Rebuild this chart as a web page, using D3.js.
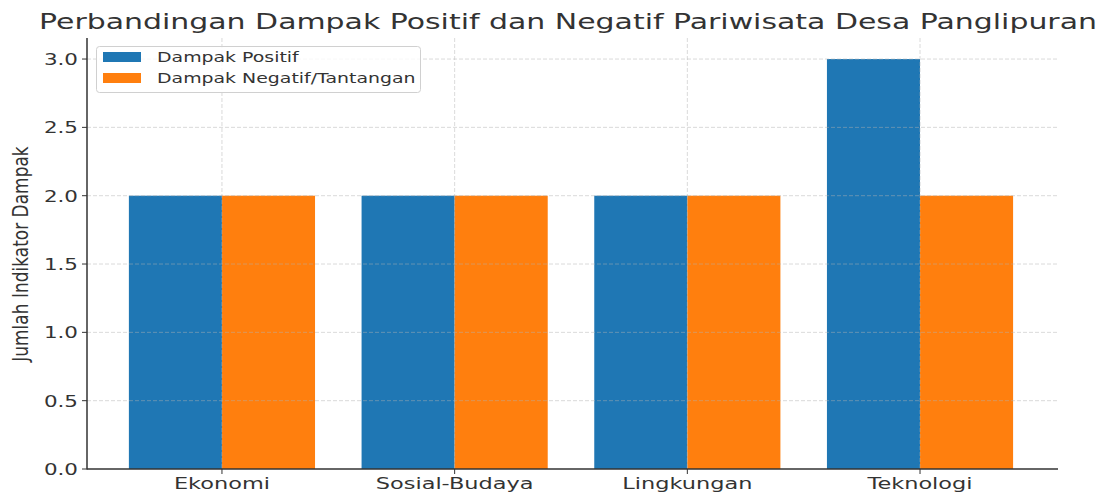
<!DOCTYPE html>
<html>
<head>
<meta charset="utf-8">
<script src="https://cdn.jsdelivr.net/npm/d3@7"></script>
<style>
  html, body { margin: 0; padding: 0; background: #fff; }
  text { font-family: "DejaVu Sans", sans-serif; fill: #333; }
</style>
</head>
<body>
<div id="chart"></div>
<script>
/* data */
const categories = ["Ekonomi", "Sosial-Budaya", "Lingkungan", "Teknologi"];
const positif = [2, 2, 2, 3];
const negatif = [2, 2, 2, 2];
const seriesNames = ["Dampak Positif", "Dampak Negatif/Tantangan"];
const yTicks = [0, 0.5, 1.0, 1.5, 2.0, 2.5, 3.0];
const titleText = "Perbandingan Dampak Positif dan Negatif Pariwisata Desa Panglipuran";
const yLabelText = "Jumlah Indikator Dampak";

//---------------------------------
/* layout */
const w = 1114, h = 492;
const plotLeft = 87, plotRight = 1058, plotTop = 38, plotBottom = 469;
const blue = "#1f77b4", orange = "#ff7f0e";
const barW = 0.4;

const svg = d3.select("#chart").append("svg")
  .attr("width", w).attr("height", h);

const xScale = d3.scaleLinear().domain([-0.58, 3.593]).range([plotLeft, plotRight]);
const yScale = d3.scaleLinear().domain([0, 3.154]).range([plotBottom, plotTop]);

/* the picture is stretched sideways, so text gets a horizontal scale */
function stext(x, y, str, size, anchor, sx) {
  return svg.append("text")
    .attr("transform", `translate(${x},${y}) scale(${sx},1)`)
    .attr("text-anchor", anchor || "start")
    .style("font-size", size + "px")
    .text(str);
}

//---------------------------------
/* bars */
const idx = d3.range(categories.length);
svg.append("g").selectAll("rect.pos")
  .data(idx).enter().append("rect")
  .attr("x", i => xScale(i - barW))
  .attr("width", i => xScale(i) - xScale(i - barW))
  .attr("y", i => yScale(positif[i]))
  .attr("height", i => yScale(0) - yScale(positif[i]))
  .attr("fill", blue);

svg.append("g").selectAll("rect.neg")
  .data(idx).enter().append("rect")
  .attr("x", i => xScale(i))
  .attr("width", i => xScale(i + barW) - xScale(i))
  .attr("y", i => yScale(negatif[i]))
  .attr("height", i => yScale(0) - yScale(negatif[i]))
  .attr("fill", orange);

//---------------------------------
/* grid (drawn over the bars, like matplotlib) */
const grid = svg.append("g")
  .attr("stroke", "#b0b0b0")
  .attr("stroke-opacity", 0.6)
  .attr("stroke-dasharray", "4,2")
  .attr("stroke-width", 0.8);
grid.selectAll("line.h").data(yTicks.slice(1)).enter().append("line")
  .attr("x1", plotLeft).attr("x2", plotRight)
  .attr("y1", d => yScale(d)).attr("y2", d => yScale(d));
grid.selectAll("line.v").data(idx).enter().append("line")
  .attr("x1", i => xScale(i)).attr("x2", i => xScale(i))
  .attr("y1", plotTop).attr("y2", plotBottom);

//---------------------------------
/* axes */
const axisColor = "#333";
svg.append("line")
  .attr("x1", plotLeft).attr("x2", plotLeft).attr("y1", plotTop).attr("y2", plotBottom + 0.5)
  .attr("stroke", axisColor).attr("stroke-width", 1.5);
svg.append("line")
  .attr("x1", plotLeft).attr("x2", plotRight).attr("y1", plotBottom).attr("y2", plotBottom)
  .attr("stroke", axisColor).attr("stroke-width", 1.5);

yTicks.forEach(function(t) {
  svg.append("line")
    .attr("x1", plotLeft - 5).attr("x2", plotLeft)
    .attr("y1", yScale(t)).attr("y2", yScale(t))
    .attr("stroke", axisColor).attr("stroke-width", 1);
  stext(plotLeft - 9, yScale(t) + 6, d3.format(".1f")(t), 16.5, "end", 1.3);
});

categories.forEach(function(c, i) {
  svg.append("line")
    .attr("x1", xScale(i)).attr("x2", xScale(i))
    .attr("y1", plotBottom).attr("y2", plotBottom + 5)
    .attr("stroke", axisColor).attr("stroke-width", 1);
  stext(xScale(i), plotBottom + 20, c, 16.5, "middle", 1.36);
});

//---------------------------------
/* title and y label */
stext(568, 28.5, titleText, 20.5, "middle", 1.46);

svg.append("text")
  .attr("transform", `translate(28,254) scale(1.26,1) rotate(-90)`)
  .attr("text-anchor", "middle")
  .style("font-size", "17px")
  .text(yLabelText);

//---------------------------------
/* legend */
const lg = svg.append("g");
lg.append("rect")
  .attr("x", 96.5).attr("y", 46.5).attr("width", 324).attr("height", 46)
  .attr("rx", 3).attr("fill", "#fff").attr("fill-opacity", 0.8)
  .attr("stroke", "#d0d0d0").attr("stroke-width", 1);
[blue, orange].forEach(function(col, k) {
  lg.append("rect")
    .attr("x", 103).attr("y", 52 + k * 21).attr("width", 38).attr("height", 10)
    .attr("fill", col);
  stext(157, 62 + k * 21, seriesNames[k], 13.7, "start", 1.38);
});
</script>
</body>
</html>
